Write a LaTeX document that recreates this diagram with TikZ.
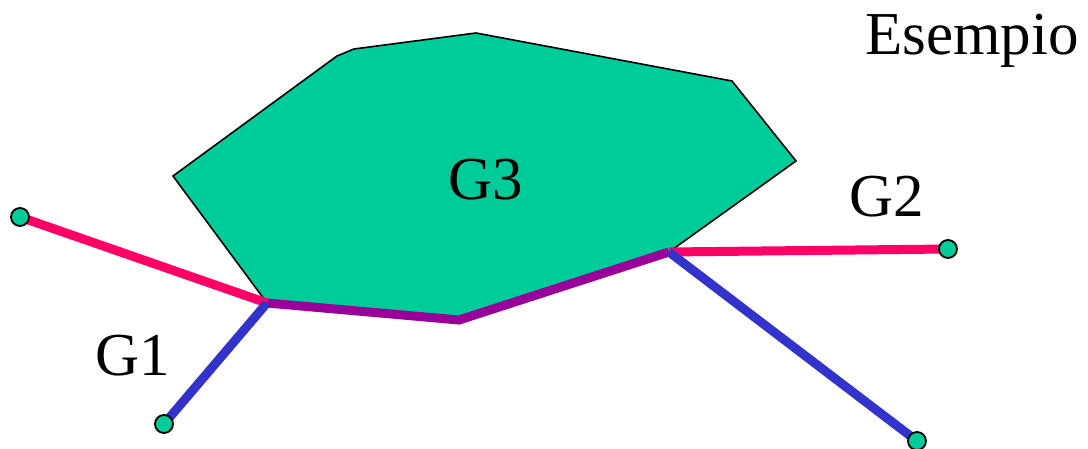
\documentclass[tikz,border=0pt]{standalone}
\usepackage{fontspec}
\setmainfont{Liberation Serif}
\newfontfamily\timesfont{Liberation Serif}
\usepackage{tikz}
\usetikzlibrary{positioning,calc}
\definecolor{ink}    {HTML}{000000}
\definecolor{region} {HTML}{00CC99}
\definecolor{rosso}  {HTML}{FF0066}
\definecolor{blu}    {HTML}{3333CC}
\definecolor{viola}  {HTML}{990099}
\tikzset{
  % --- nodes
  lbl/.style   = {anchor=base, inner sep=0pt, text=ink,
                  font=\timesfont\fontsize{61}{70}\selectfont},
  endp/.style  = {circle, draw=ink, fill=region, line width=1.8pt,
                  minimum size=18pt, inner sep=0pt},
  % --- edges
  border/.style= {draw=ink, line width=1.6pt, fill=region, line join=miter},
  er/.style    = {draw=rosso, line width=9pt},
  eb/.style    = {draw=blu, line width=9pt},
  ev/.style    = {draw=viola, line width=9pt, line join=miter},
}
\begin{document}
\begin{tikzpicture}[x=1pt,y=-1pt]
  \useasboundingbox (0,0) rectangle (1088,449);
  % region G3
  \coordinate (pa) at (173,176);
  \coordinate (pb) at (337,56);
  \coordinate (pc) at (354,49);
  \coordinate (pd) at (476,33);
  \coordinate (pe) at (732,81);
  \coordinate (pf) at (796,161);
  \coordinate (jr) at (669,252);
  \coordinate (pg) at (459,320);
  \coordinate (jl) at (267,303);
  \draw[border] (pa) -- (pb) -- (pc) -- (pd) -- (pe) -- (pf) -- (jr)
                -- (pg) -- (jl) -- cycle;
  \draw[ev] (jr) -- (pg) -- (jl);
  % end points
  \coordinate (g1a) at (20,217);
  \coordinate (g1b) at (164,424);
  \coordinate (g2a) at (948,249);
  \coordinate (g2b) at (917,441);
  % G1, G2
  \draw[er] (jl) -- (g1a);
  \draw[eb] (jl) -- (g1b);
  \draw[er] (jr) -- (g2a);
  \draw[eb] (jr) -- (g2b);
  \node[endp] (e1a) at (g1a) {};
  \node[endp] (e1b) at (g1b) {};
  \node[endp] (e2a) at (g2a) {};
  \node[endp] (e2b) at (g2b) {};
  % labels
  \node[lbl] (lg3) at (486,200) {G3};
  \node[lbl] (lg1) at (133,375) {G1};
  \node[lbl] (lg2) at (887,217) {G2};
  \node[lbl] (tit) at (972,55)  {Esempio};
\end{tikzpicture}
\end{document}
